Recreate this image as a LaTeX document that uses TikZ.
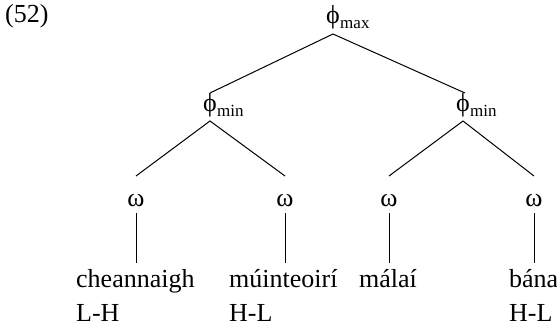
\documentclass[tikz,border=0pt]{standalone}
\usepackage{fontspec}
\setmainfont{Liberation Serif}
\begin{document}
\begin{tikzpicture}[x=1pt,y=-1pt,
  txt/.style={inner sep=0pt, font=\fontsize{26}{30}\selectfont},
  subtxt/.style={inner sep=0pt, font=\fontsize{17}{20}\selectfont},
  edge/.style={line width=1pt, black}]
\useasboundingbox (0,0) rectangle (557,326);
% example number
\node[txt, anchor=base west] (num) at (5,23) {(52)};
% phi nodes
\node[txt, anchor=base] (max) at (333,24) {ϕ};
\node[subtxt, anchor=base west] (maxs) at ([yshift=-5pt]max.base east) {max};
\node[txt, anchor=base] (minL) at (210,112) {ϕ};
\node[subtxt, anchor=base west] (minLs) at ([yshift=-5pt]minL.base east) {min};
\node[txt, anchor=base] (minR) at (463,112) {ϕ};
\node[subtxt, anchor=base west] (minRs) at ([yshift=-5pt]minR.base east) {min};
% omega nodes
\node[txt, anchor=base] (w1) at (136,206) {ω};
\node[txt, anchor=base] (w2) at (285,206) {ω};
\node[txt, anchor=base] (w3) at (389,206) {ω};
\node[txt, anchor=base] (w4) at (534,206) {ω};
% words
\node[txt, anchor=base west] (c1) at (76,287) {cheannaigh};
\node[txt, anchor=base west] (c2) at (229,287) {múinteoirí};
\node[txt, anchor=base west] (c3) at (359,287) {málaí};
\node[txt, anchor=base west] (c4) at (509,287) {bána};
\node[txt, anchor=base west] (t1) at (76,321) {L-H};
\node[txt, anchor=base west] (t2) at (229,321) {H-L};
\node[txt, anchor=base west] (t4) at (509,321) {H-L};
% connector end points
\coordinate (maxB) at (333,34);
\coordinate (minLT) at (210,93);
\coordinate (minRT) at (465,93);
\coordinate (minLB) at (210,121);
\coordinate (minRB) at (463,121);
\coordinate (w1T) at (136,176);
\coordinate (w2T) at (285,176);
\coordinate (w3T) at (389,176);
\coordinate (w4T) at (534,176);
\coordinate (w1B) at (136,213);
\coordinate (w2B) at (285,213);
\coordinate (w3B) at (389,213);
\coordinate (w4B) at (534,213);
\coordinate (c1T) at (136,263);
\coordinate (c2T) at (285,263);
\coordinate (c3T) at (389,263);
\coordinate (c4T) at (534,263);
% connectors
\draw[edge] (minLT) -- (maxB) -- (minRT);
\draw[edge] (w1T) -- (minLB) -- (w2T);
\draw[edge] (w3T) -- (minRB) -- (w4T);
\draw[edge] (w1B) -- (c1T);
\draw[edge] (w2B) -- (c2T);
\draw[edge] (w3B) -- (c3T);
\draw[edge] (w4B) -- (c4T);
\end{tikzpicture}
\end{document}
